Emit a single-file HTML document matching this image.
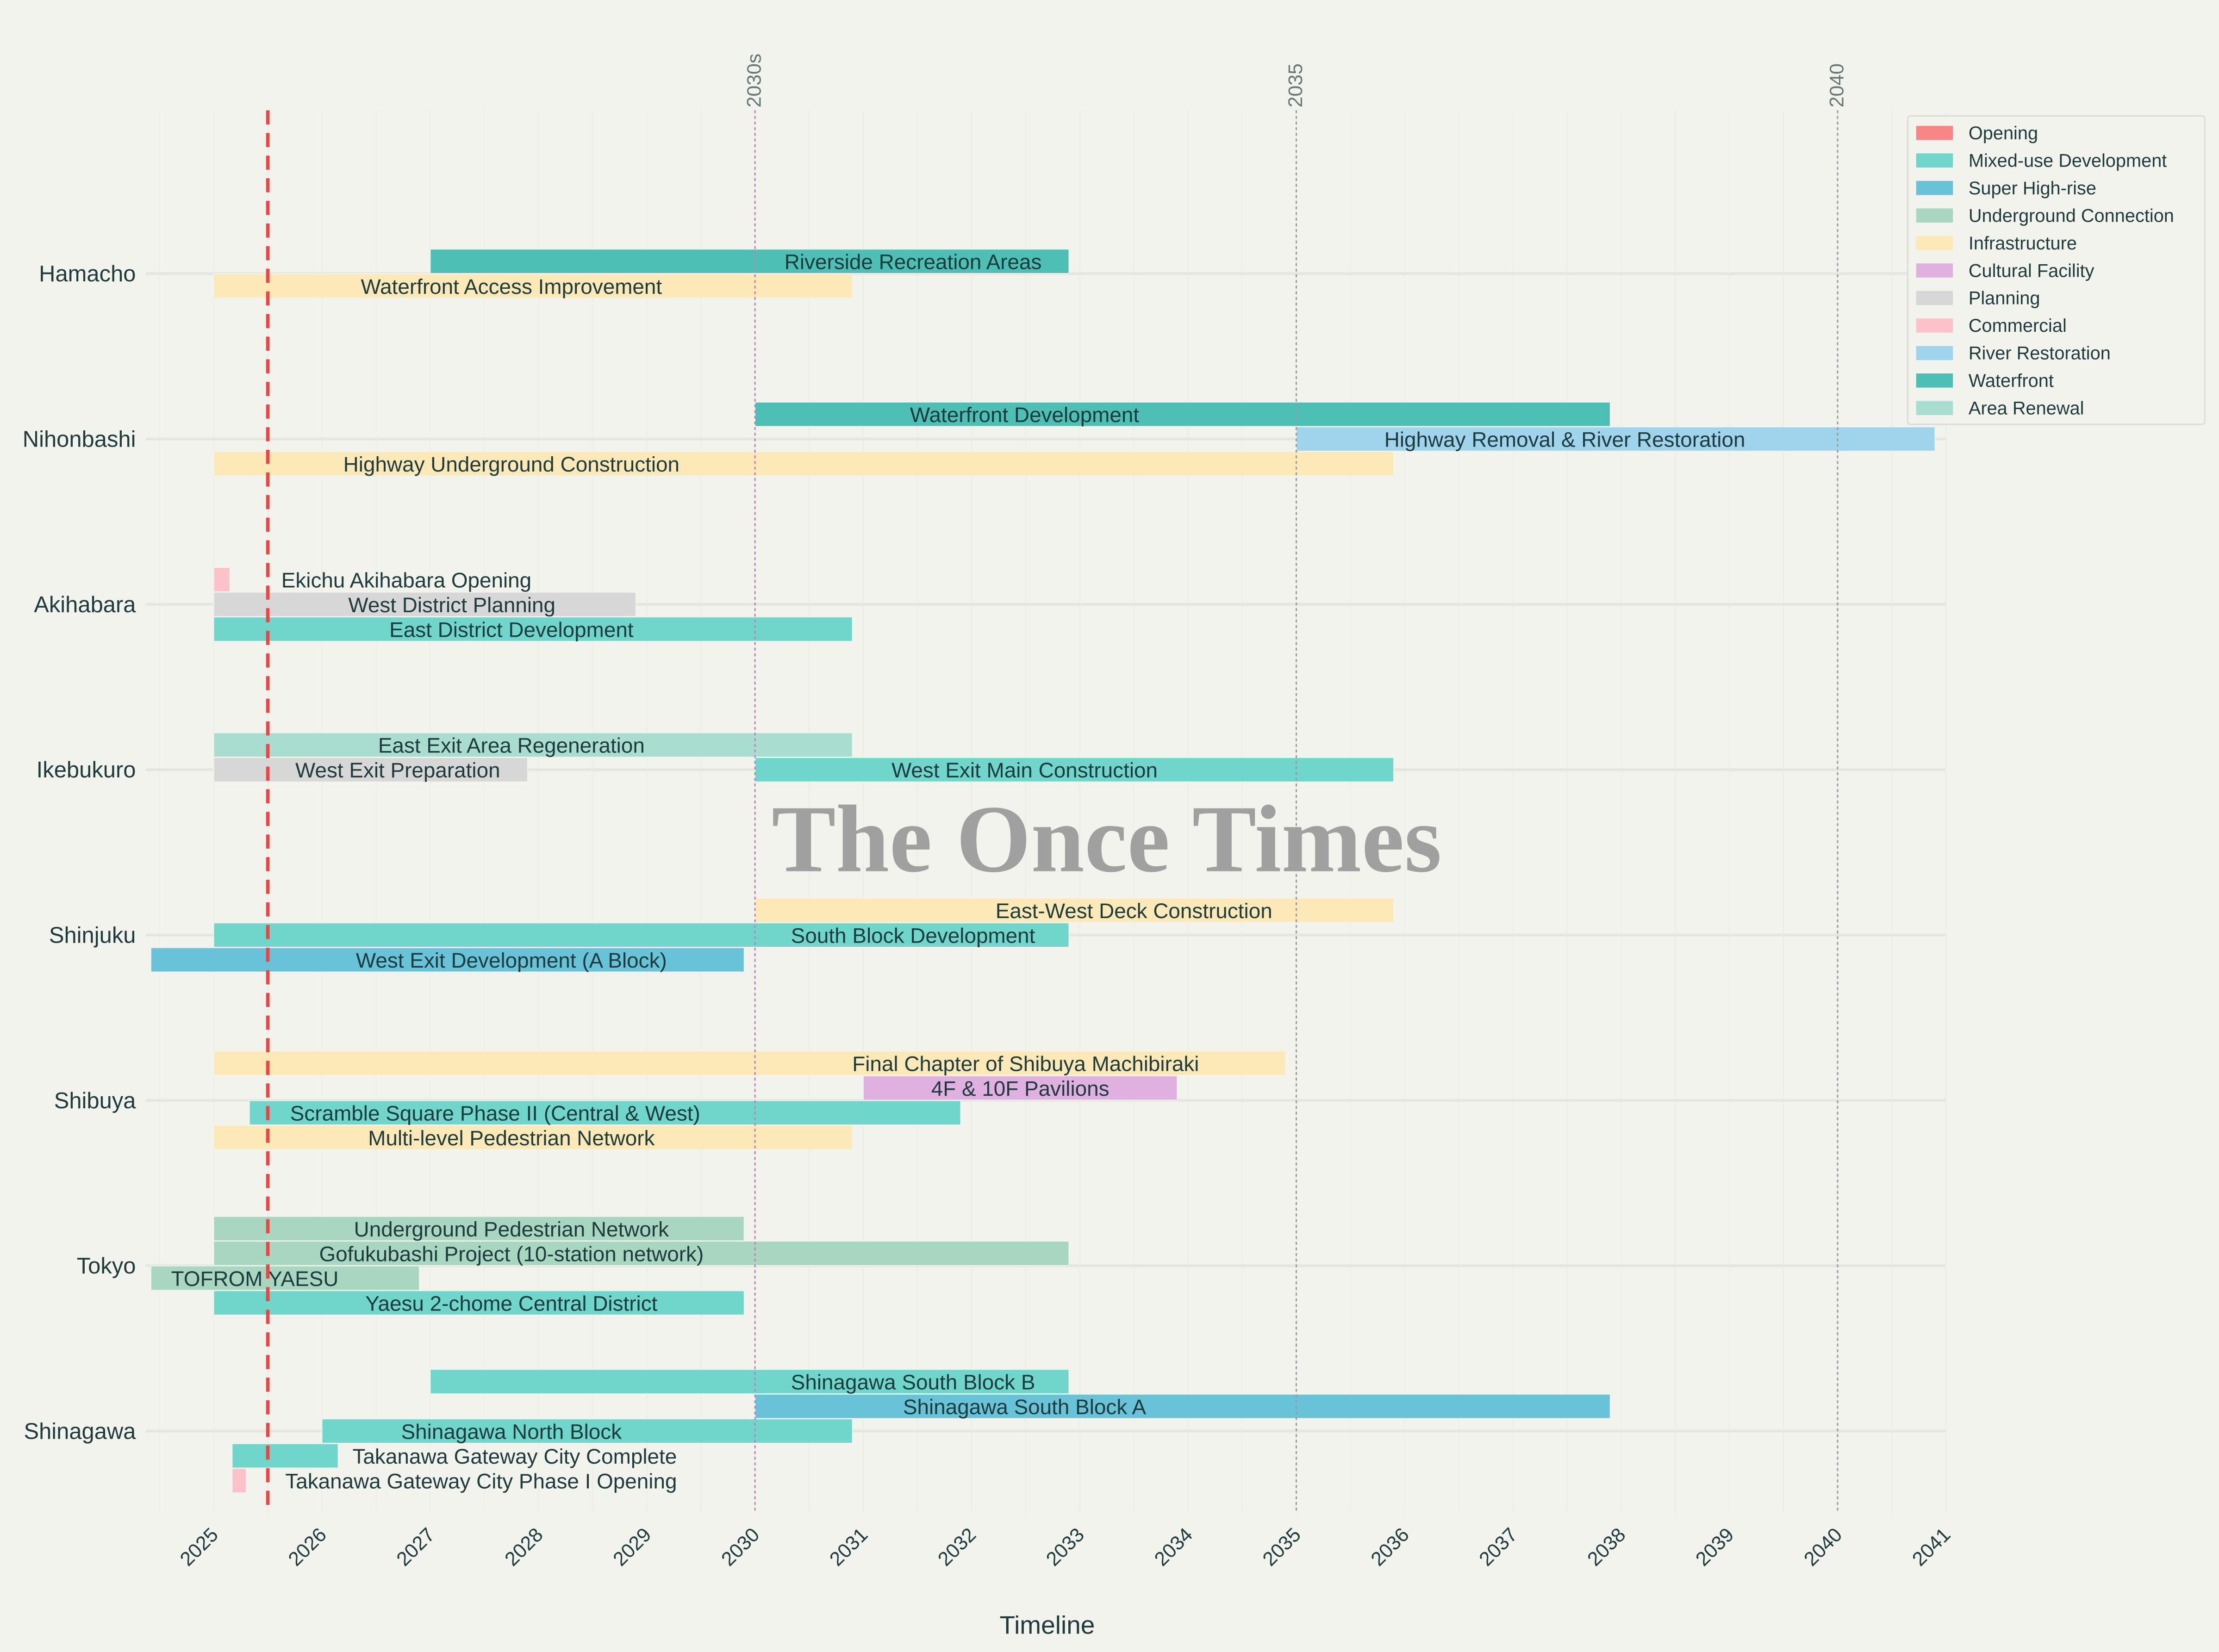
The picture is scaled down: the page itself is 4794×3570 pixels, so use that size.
<!DOCTYPE html>
<html><head><meta charset="utf-8">
<style>
html,body{margin:0;padding:0;background:#f3f3ee;}
svg{display:block;font-family:"Liberation Sans",sans-serif;}
</style></head>
<body>
<svg id="chart" width="4794" height="3570" viewBox="0 0 1568 1168" preserveAspectRatio="none" xmlns="http://www.w3.org/2000/svg">
<rect width="1568" height="1168" fill="#f3f3ee"/>
<g id="grid"></g>
<g id="bars"></g>
<g id="overlay"></g>
<g id="legend"></g>
</svg>
<script>
const categories = ["Hamacho","Nihonbashi","Akihabara","Ikebukuro","Shinjuku","Shibuya","Tokyo","Shinagawa"];
const taskNames = ["Riverside Recreation Areas","Waterfront Access Improvement","Waterfront Development","Highway Removal & River Restoration","Highway Underground Construction","Ekichu Akihabara Opening","West District Planning","East District Development","East Exit Area Regeneration","West Exit Preparation","West Exit Main Construction","East-West Deck Construction","South Block Development","West Exit Development (A Block)","Final Chapter of Shibuya Machibiraki","4F & 10F Pavilions","Scramble Square Phase II (Central & West)","Multi-level Pedestrian Network","Underground Pedestrian Network","Gofukubashi Project (10-station network)","TOFROM YAESU","Yaesu 2-chome Central District","Shinagawa South Block B","Shinagawa South Block A","Shinagawa North Block","Takanawa Gateway City Complete","Takanawa Gateway City Phase I Opening"];
const taskCategory = [0,0,1,1,1,2,2,2,3,3,3,4,4,4,5,5,5,5,6,6,6,6,7,7,7,7,7];
const taskSlot = [-0.5,0.5,-1,0,1,-1,0,1,-1,0,0,-1,0,1,-1.5,-0.5,0.5,1.5,-1.5,-0.5,0.5,1.5,-2,-1,0,1,2];
const taskStart = [2027,2025,2030,2035,2025,2025,2025,2025,2025,2025,2030,2030,2025,2024.42,2025,2031,2025.33,2025,2025,2025,2024.42,2025,2027,2030,2026,2025.17,2025.17];
const taskEnd = [2032.9,2030.9,2037.9,2040.9,2035.9,2025.15,2028.9,2030.9,2030.9,2027.9,2035.9,2035.9,2032.9,2029.9,2034.9,2033.9,2031.9,2030.9,2029.9,2032.9,2026.9,2029.9,2032.9,2037.9,2030.9,2026.15,2025.3];
const taskType = [9,4,9,8,4,7,6,1,10,6,1,4,1,2,4,5,1,4,3,3,3,1,1,2,1,1,7];
const labelYear = [2031.46,2027.75,2032.49,2037.48,2027.75,2026.78,2027.2,2027.75,2027.75,2026.7,2032.49,2033.5,2031.46,2027.75,2032.5,2032.45,2027.6,2027.75,2027.75,2027.75,2025.38,2027.75,2031.46,2032.49,2027.75,2027.78,2027.47];
const typeNames = ["Opening","Mixed-use Development","Super High-rise","Underground Connection","Infrastructure","Cultural Facility","Planning","Commercial","River Restoration","Waterfront","Area Renewal"];
const typeColors = ["#f88686","#70d6cc","#68c2d8","#a8d6c0","#fde9b8","#e0b0e0","#d7d7d7","#fcc1c9","#a0d4ec","#4dbfb5","#a9ddd0"];
const tickYears = [2025,2026,2027,2028,2029,2030,2031,2032,2033,2034,2035,2036,2037,2038,2039,2040,2041];
const markerYears = [2030,2035,2040];
const markerLabels = ["2030s","2035","2040"];
const todayYear = 2025.5;

const NS="http://www.w3.org/2000/svg";
function xs(y){return 151+(y-2025)*76.5;}
function ys(c,s){return 193.5+c*116.9+s*17.5;}
function mk(tag,attrs,parent,text){const e=document.createElementNS(NS,tag);for(const k in attrs)e.setAttribute(k,attrs[k]);if(text!==undefined)e.textContent=text;parent.appendChild(e);return e;}
const grid=document.getElementById('grid'),bars=document.getElementById('bars'),ov=document.getElementById('overlay'),leg=document.getElementById('legend');
const TOP=78,BOT=1070;
for(let y=2024.5;y<=2041;y+=0.5){const l=mk('line',{x1:xs(y),x2:xs(y),y1:TOP,y2:BOT,stroke:'#ecece7','stroke-width':0.7},grid);

}
categories.forEach((c,i)=>{const y=193.5+i*116.9;
const l=mk('line',{x1:103,x2:1375,y1:y,y2:y,stroke:'#e6e6e1','stroke-width':2},grid);


const t=mk('text',{x:96,y:y+5.5,'text-anchor':'end','font-size':16,fill:'#1f3a3d'},grid,c);

});
taskNames.forEach((n,i)=>{const yc=ys(taskCategory[i],taskSlot[i]);const x0=xs(taskStart[i]),x1=xs(taskEnd[i]);
const r=mk('rect',{x:x0,y:yc-8.6,width:x1-x0,height:17.2,fill:typeColors[taskType[i]],stroke:'#f3f3ee','stroke-width':0.6},bars);


const t=mk('text',{x:xs(labelYear[i]),y:yc+5.5,'text-anchor':'middle','font-size':15,fill:'#1f3a3d'},bars,n);

});
markerYears.forEach((m,i)=>{const x=xs(m);
const l=mk('line',{x1:x,x2:x,y1:TOP,y2:BOT,stroke:i==0?'#c080c0':'#9a9aa0','stroke-width':1,'stroke-dasharray':'2,2'},ov);


const t=mk('text',{x:x+4,y:76,transform:`rotate(-90 ${x+4} 76)`,'font-size':14,fill:'#667777'},ov,markerLabels[i]);

});
const tl=mk('line',{x1:xs(todayYear),x2:xs(todayYear),y1:TOP,y2:BOT,stroke:'#ee4444','stroke-width':2.5,'stroke-dasharray':'10,6'},ov);


tickYears.forEach(y=>{const x=xs(y);
const t=mk('text',{x:x+4,y:1086,transform:`rotate(-45 ${x+4} 1086)`,'text-anchor':'end','font-size':14,fill:'#1f3a3d'},ov,String(y));

});
const xt=mk('text',{x:740,y:1155,'text-anchor':'middle','font-size':18,fill:'#1f3a3d'},ov,'Timeline');


const wm=mk('text',{x:782,y:616,'text-anchor':'middle','font-size':68,'font-weight':'bold','font-family':'"Liberation Serif",serif',fill:'#a0a0a0'},ov,'The Once Times');


const lb=mk('rect',{x:1348,y:82,width:210,height:218,fill:'#f3f3ee',stroke:'#dcdcd8','stroke-width':1,rx:2},leg);


typeNames.forEach((n,i)=>{const y=94+i*19.45;
const s=mk('rect',{x:1354,y:y-5,width:26,height:10,fill:typeColors[i]},leg);


const t=mk('text',{x:1391,y:y+4.5,'font-size':13,fill:'#1f3a3d'},leg,n);

});
</script>
</body></html>
